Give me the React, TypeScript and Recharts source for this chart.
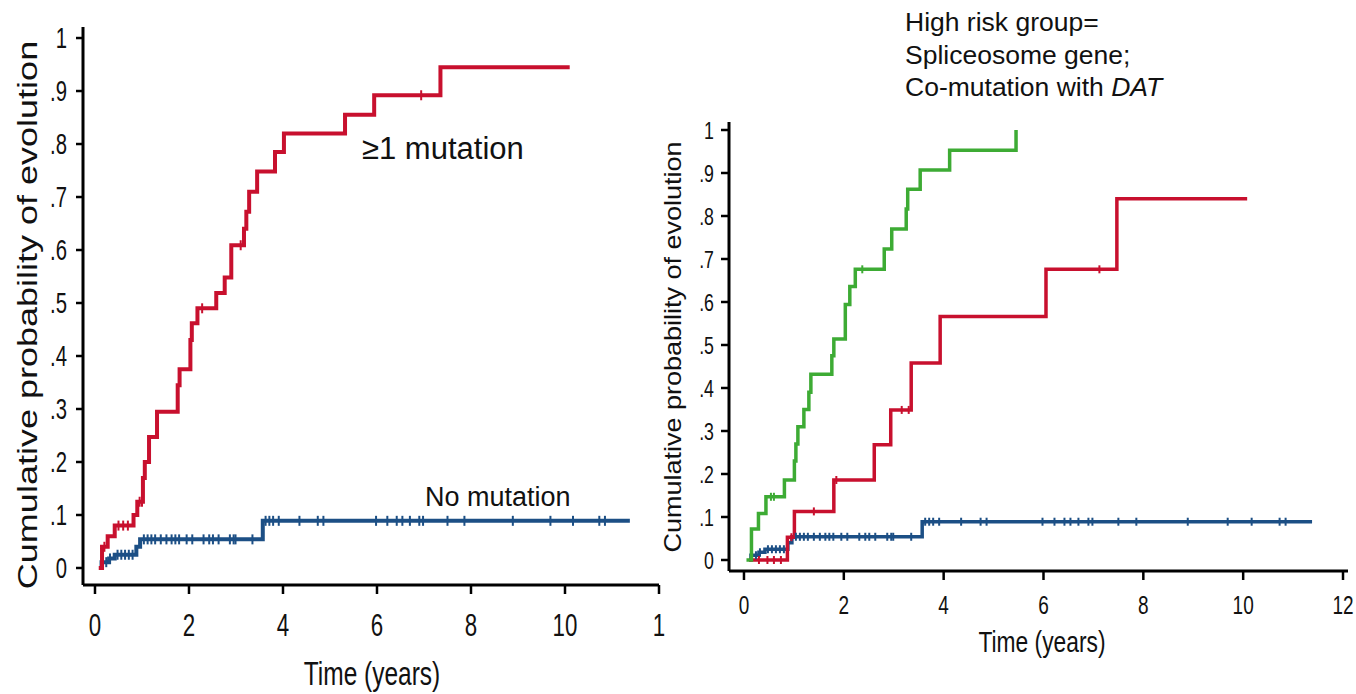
import React from "react";
import { ComposedChart, Line, Scatter, XAxis, YAxis } from "recharts";

// ---------- data (time in years, cumulative probability) ----------
const leftMutated = [
  { t: 0.08, p: 0 }, { t: 0.15, p: 0.04 }, { t: 0.27, p: 0.06 }, { t: 0.42, p: 0.08 },
  { t: 0.82, p: 0.1 }, { t: 0.9, p: 0.125 }, { t: 1.02, p: 0.17 }, { t: 1.06, p: 0.2 },
  { t: 1.15, p: 0.247 }, { t: 1.32, p: 0.295 }, { t: 1.76, p: 0.345 }, { t: 1.8, p: 0.375 },
  { t: 2.03, p: 0.43 }, { t: 2.06, p: 0.462 }, { t: 2.18, p: 0.49 }, { t: 2.58, p: 0.519 },
  { t: 2.76, p: 0.548 }, { t: 2.9, p: 0.609 }, { t: 3.17, p: 0.64 }, { t: 3.22, p: 0.672 },
  { t: 3.28, p: 0.71 }, { t: 3.45, p: 0.748 }, { t: 3.83, p: 0.785 }, { t: 4.02, p: 0.82 },
  { t: 5.32, p: 0.855 }, { t: 5.94, p: 0.892 }, { t: 7.35, p: 0.945 }, { t: 10.1, p: 0.945 },
];
const leftMutatedCensor = [0.2, 0.5, 0.6, 0.7, 0.95, 1.0, 2.28, 3.1, 6.94];

const noMutation = [
  { t: 0.1, p: 0 }, { t: 0.14, p: 0.011 }, { t: 0.3, p: 0.018 }, { t: 0.42, p: 0.025 },
  { t: 0.88, p: 0.04 }, { t: 0.96, p: 0.054 }, { t: 3.57, p: 0.089 }, { t: 11.38, p: 0.089 },
];
const noMutationCensor = [
  0.24, 0.32, 0.48, 0.56, 0.64, 0.72, 0.8, 1.04, 1.12, 1.2, 1.28, 1.4, 1.52, 1.63, 1.71,
  1.79, 1.95, 2.07, 2.31, 2.43, 2.51, 2.63, 2.87, 2.95, 2.99, 3.35, 3.63, 3.71, 3.79, 3.91,
  4.35, 4.74, 4.86, 5.98, 6.22, 6.42, 6.54, 6.7, 6.9, 6.98, 7.5, 7.86, 8.89, 9.69, 10.17,
  10.73, 10.85,
];

const highRisk = [
  { t: 0.05, p: 0 }, { t: 0.15, p: 0.072 }, { t: 0.29, p: 0.108 }, { t: 0.44, p: 0.147 },
  { t: 0.81, p: 0.186 }, { t: 1.01, p: 0.23 }, { t: 1.04, p: 0.27 }, { t: 1.08, p: 0.31 },
  { t: 1.2, p: 0.35 }, { t: 1.3, p: 0.39 }, { t: 1.34, p: 0.432 }, { t: 1.76, p: 0.475 },
  { t: 1.8, p: 0.514 }, { t: 2.03, p: 0.594 }, { t: 2.12, p: 0.636 }, { t: 2.23, p: 0.676 },
  { t: 2.81, p: 0.723 }, { t: 2.96, p: 0.77 }, { t: 3.25, p: 0.816 }, { t: 3.28, p: 0.862 },
  { t: 3.53, p: 0.907 }, { t: 4.12, p: 0.953 }, { t: 5.45, p: 1.0 },
];
const highRiskCensor = [0.54, 0.6, 2.37];

const otherMutation = [
  { t: 0.1, p: 0 }, { t: 0.87, p: 0.053 }, { t: 1.01, p: 0.113 }, { t: 1.8, p: 0.186 },
  { t: 2.61, p: 0.268 }, { t: 2.94, p: 0.349 }, { t: 3.35, p: 0.458 }, { t: 3.93, p: 0.566 },
  { t: 6.05, p: 0.676 }, { t: 7.47, p: 0.84 }, { t: 10.08, p: 0.84 },
];
const otherMutationCensor = [0.3, 0.47, 0.6, 0.74, 0.95, 1.4, 1.85, 3.16, 3.3, 7.12];

const xTicks = [0, 2, 4, 6, 8, 10, 12];
const leftXTickLabels = ["0", "2", "4", "6", "8", "10", "1"];
const rightXTickLabels = ["0", "2", "4", "6", "8", "10", "12"];
const yTicks = [0, 0.1, 0.2, 0.3, 0.4, 0.5, 0.6, 0.7, 0.8, 0.9, 1];
const yTickLabels = ["0", ".1", ".2", ".3", ".4", ".5", ".6", ".7", ".8", ".9", "1"];

const RED = "#c8102e";
const BLUE = "#1c4f85";
const GREEN = "#3dab34";
const FONT = "'Liberation Sans', Arial, Helvetica, sans-serif";

// value of a step series at time t
const stepValue = (series: { t: number; p: number }[], t: number) => {
  let v = series[0].p;
  for (const pt of series) if (pt.t <= t) v = pt.p;
  return v;
};
const censorPoints = (series: { t: number; p: number }[], times: number[]) =>
  times.map((t) => ({ t, p: stepValue(series, t) }));

const censorShape = (color: string, half: number) => (props: any) => {
  const { cx, cy } = props;
  if (cx == null || cy == null) return <g />;
  return <line x1={cx} x2={cx} y1={cy - half} y2={cy + half} stroke={color} strokeWidth={2} />;
};

const makeXTick = (labels: string[], fontSize: number, dy: number, sx: number) => (props: any) => {
  const { x, y, payload, index } = props;
  const i = xTicks.indexOf(payload.value);
  return (
    <g transform={`translate(${x},${y})`}>
      <text transform={`scale(${sx},1)`} textAnchor="middle" dy={dy} fontSize={fontSize} fontFamily={FONT} fill="#111">
        {labels[i >= 0 ? i : index]}
      </text>
    </g>
  );
};

const makeYTick = (fontSize: number, sx: number) => (props: any) => {
  const { x, y, payload } = props;
  const i = yTicks.findIndex((v) => Math.abs(v - payload.value) < 1e-6);
  return (
    <g transform={`translate(${x},${y})`}>
      <text transform={`scale(${sx},1)`} textAnchor="end" dy={fontSize * 0.36} fontSize={fontSize} fontFamily={FONT} fill="#111">
        {yTickLabels[i]}
      </text>
    </g>
  );
};

const abs = (style: React.CSSProperties): React.CSSProperties => ({
  position: "absolute",
  whiteSpace: "nowrap",
  fontFamily: FONT,
  color: "#111",
  lineHeight: 1,
  ...style,
});

export default function App() {
  return (
    <div style={{ position: "absolute", left: 0, top: 0, width: 1356, height: 694, background: "#fff", overflow: "hidden" }}>
      {/* Left panel */}
      <div style={{ position: "absolute", left: 0, top: 0 }}>
        <ComposedChart width={680} height={694} margin={{ top: 27, right: 21, bottom: 0, left: 0 }}>
          <XAxis
            type="number"
            dataKey="t"
            domain={[-0.255, 12]}
            ticks={xTicks}
            allowDataOverflow
            axisLine={{ stroke: "#000", strokeWidth: 3 }}
            tickLine={{ stroke: "#000", strokeWidth: 2.5 }}
            tickSize={9}
            tickMargin={0}
            height={109}
            tick={makeXTick(leftXTickLabels, 31, 42, 0.72)}
          />
          <YAxis
            type="number"
            dataKey="p"
            domain={[-0.0321, 1.0208]}
            ticks={yTicks}
            allowDataOverflow
            axisLine={{ stroke: "#000", strokeWidth: 3 }}
            tickLine={{ stroke: "#000", strokeWidth: 2.5 }}
            tickSize={7}
            tickMargin={9}
            width={83}
            tick={makeYTick(29, 0.7)}
          />
          <Line data={noMutation} dataKey="p" type="stepAfter" stroke={BLUE} strokeWidth={4} dot={false} isAnimationActive={false} />
          <Line data={leftMutated} dataKey="p" type="stepAfter" stroke={RED} strokeWidth={4} dot={false} isAnimationActive={false} />
          <Scatter data={censorPoints(noMutation, noMutationCensor)} dataKey="p" shape={censorShape(BLUE, 5)} isAnimationActive={false} />
          <Scatter data={censorPoints(leftMutated, leftMutatedCensor)} dataKey="p" shape={censorShape(RED, 5)} isAnimationActive={false} />
        </ComposedChart>
      </div>

      {/* Right panel */}
      <div style={{ position: "absolute", left: 640, top: 0 }}>
        <ComposedChart width={716} height={694} margin={{ top: 122, right: 8, bottom: 0, left: 0 }}>
          <XAxis
            type="number"
            dataKey="t"
            domain={[-0.3, 12.1]}
            ticks={xTicks}
            allowDataOverflow
            axisLine={{ stroke: "#000", strokeWidth: 3 }}
            tickLine={{ stroke: "#000", strokeWidth: 2.5 }}
            tickSize={9}
            tickMargin={0}
            height={123}
            tick={makeXTick(rightXTickLabels, 25, 34, 0.76)}
          />
          <YAxis
            type="number"
            dataKey="p"
            domain={[-0.0256, 1.0186]}
            ticks={yTicks}
            allowDataOverflow
            axisLine={{ stroke: "#000", strokeWidth: 3 }}
            tickLine={{ stroke: "#000", strokeWidth: 2.5 }}
            tickSize={8}
            tickMargin={7}
            width={89}
            tick={makeYTick(24, 0.74)}
          />
          <Line data={noMutation} dataKey="p" type="stepAfter" stroke={BLUE} strokeWidth={3.5} dot={false} isAnimationActive={false} />
          <Line data={otherMutation} dataKey="p" type="stepAfter" stroke={RED} strokeWidth={3.5} dot={false} isAnimationActive={false} />
          <Line data={highRisk} dataKey="p" type="stepAfter" stroke={GREEN} strokeWidth={3.5} dot={false} isAnimationActive={false} />
          <Scatter data={censorPoints(noMutation, noMutationCensor)} dataKey="p" shape={censorShape(BLUE, 4)} isAnimationActive={false} />
          <Scatter data={censorPoints(otherMutation, otherMutationCensor)} dataKey="p" shape={censorShape(RED, 4)} isAnimationActive={false} />
          <Scatter data={censorPoints(highRisk, highRiskCensor)} dataKey="p" shape={censorShape(GREEN, 4)} isAnimationActive={false} />
        </ComposedChart>
      </div>

      {/* Axis titles */}
      <div style={abs({ left: 28, top: 315, fontSize: 36, transform: "translate(-50%,-50%) rotate(-90deg) scale(1,0.78)" })}>
        Cumulative probability of evolution
      </div>
      <div style={abs({ left: 673, top: 347, fontSize: 27, transform: "translate(-50%,-50%) rotate(-90deg) scale(1,0.9)" })}>
        Cumulative probability of evolution
      </div>
      <div style={abs({ left: 372, top: 673, fontSize: 34, transform: "translate(-50%,-50%) scale(0.72,1)" })}>
        Time (years)
      </div>
      <div style={abs({ left: 1042, top: 642, fontSize: 30, transform: "translate(-50%,-50%) scale(0.76,1)" })}>
        Time (years)
      </div>

      {/* Annotations */}
      <div style={abs({ left: 362, top: 133, fontSize: 31 })}>≥1 mutation</div>
      <div style={abs({ left: 425, top: 484, fontSize: 27 })}>No mutation</div>
      <div style={abs({ left: 905, top: 6, fontSize: 26.5, lineHeight: "32.5px" })}>
        High risk group=
        <br />
        Spliceosome gene;
        <br />
        Co-mutation with <i>DAT</i>
      </div>
    </div>
  );
}
